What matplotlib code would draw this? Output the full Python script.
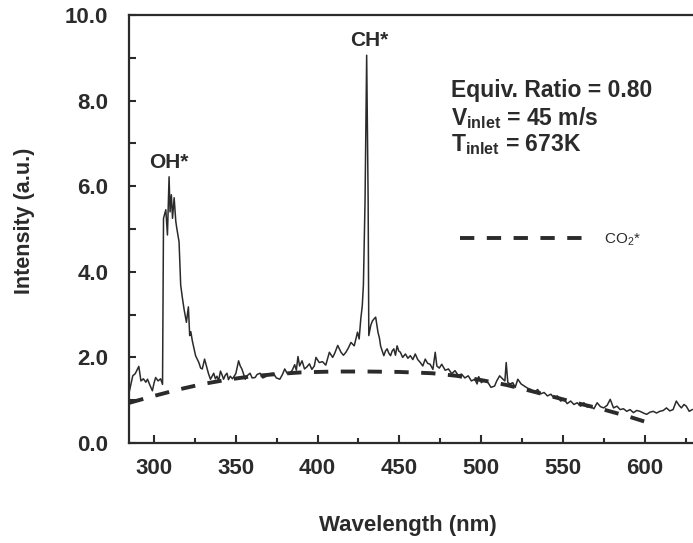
import matplotlib
matplotlib.use("Agg")
import matplotlib.pyplot as plt
import numpy as np
from matplotlib.ticker import MultipleLocator, FormatStrFormatter

plt.rcParams['font.family'] = ['Liberation Sans', 'DejaVu Sans']
plt.rcParams['mathtext.fontset'] = 'custom'
plt.rcParams['mathtext.rm'] = 'Liberation Sans'
plt.rcParams['mathtext.bf'] = 'Liberation Sans:bold'
plt.rcParams['lines.scale_dashes'] = False

ink = '#2b2b2b'

wavelength = [
    285.0, 286.0, 287.0, 288.5, 290.7, 292.0, 293.5, 295.0, 296.0, 297.5,
    299.0, 300.0, 301.0, 302.5, 304.0, 305.2, 305.8, 307.2, 308.2, 309.2,
    309.8, 310.6, 311.3, 312.3, 313.3, 313.9, 315.3, 316.3, 317.3, 318.3,
    319.8, 321.0, 321.8, 322.5, 323.4, 325.4, 327.4, 328.5, 329.5, 330.9,
    332.0, 333.3, 334.5, 336.5, 337.5, 338.5, 339.5, 340.6, 341.5, 342.5,
    343.5, 344.6, 345.5, 346.6, 348.0, 350.0, 351.7, 352.7, 353.7, 354.8,
    355.8, 357.2, 358.7, 360.0, 361.8, 363.0, 364.8, 366.5, 368.8, 370.5,
    372.9, 374.8, 376.9, 378.5, 379.9, 381.5, 383.0, 384.5, 386.0, 387.0,
    388.0, 389.0, 390.5, 392.0, 393.5, 395.0, 396.5, 398.0, 399.0, 401.0,
    403.0, 405.0, 407.2, 409.2, 410.5, 412.3, 414.3, 415.8, 417.3, 418.8,
    420.4, 422.4, 423.5, 424.4, 425.4, 426.4, 427.3, 428.0, 429.0, 430.0,
    430.9, 431.3, 432.5, 433.5, 434.5, 435.5, 436.9, 437.8, 438.5, 439.5,
    440.5, 441.5, 442.5, 443.5, 444.6, 445.6, 446.6, 447.6, 448.6, 449.6,
    450.6, 452.0, 453.7, 455.2, 456.7, 458.2, 459.7, 461.2, 462.8, 464.3,
    465.8, 467.3, 468.8, 470.5, 471.9, 472.9, 474.4, 475.9, 478.0, 480.0,
    482.0, 484.0, 486.0, 488.0, 490.0, 492.1, 494.0, 496.1, 497.5, 498.5,
    500.1, 502.0, 504.2, 506.0, 508.2, 509.5, 511.3, 513.3, 514.5, 515.3,
    516.3, 517.8, 519.3, 520.8, 522.4, 524.4, 526.4, 528.4, 530.4, 532.5,
    534.5, 536.5, 538.5, 540.5, 542.6, 544.6, 546.6, 548.6, 550.6, 552.6,
    554.7, 556.7, 558.7, 560.8, 562.8, 564.8, 566.8, 568.9, 570.9, 572.9,
    574.9, 577.0, 578.9, 580.9, 583.0, 585.0, 587.0, 589.0, 591.0, 593.1,
    595.1, 597.1, 599.2, 601.2, 603.2, 605.2, 607.2, 609.2, 611.3, 613.3,
    615.3, 617.3, 619.3, 621.0, 622.4, 624.0, 625.4, 627.2, 629.0,
]
intensity = [
    1.22, 1.40, 1.57, 1.62, 1.79, 1.45, 1.50, 1.42, 1.49, 1.35,
    1.22, 1.40, 1.53, 1.45, 1.50, 1.37, 5.25, 5.45, 4.86, 6.22,
    5.40, 5.80, 5.25, 5.73, 5.18, 5.02, 4.70, 3.69, 3.40, 3.14,
    2.82, 3.18, 2.51, 2.60, 2.39, 2.04, 1.88, 1.75, 1.73, 1.96,
    1.80, 1.62, 1.49, 1.63, 1.50, 1.56, 1.45, 1.68, 1.60, 1.49,
    1.58, 1.63, 1.48, 1.56, 1.50, 1.62, 1.92, 1.80, 1.73, 1.60,
    1.49, 1.58, 1.63, 1.52, 1.53, 1.60, 1.63, 1.52, 1.56, 1.62,
    1.63, 1.52, 1.49, 1.60, 1.73, 1.62, 1.63, 1.70, 1.83, 1.70,
    2.02, 1.80, 1.92, 1.73, 1.78, 1.85, 1.72, 1.80, 2.00, 1.88,
    1.90, 1.82, 2.12, 2.00, 2.10, 2.28, 2.12, 2.05, 2.12, 2.22,
    2.35, 2.27, 2.45, 2.59, 2.43, 2.90, 3.20, 3.69, 5.65, 9.06,
    5.65, 2.51, 2.75, 2.85, 2.90, 2.94, 2.59, 2.45, 2.27, 2.15,
    2.04, 2.15, 2.20, 2.10, 2.04, 2.15, 2.20, 2.05, 2.27, 2.15,
    2.12, 2.00, 2.08, 1.98, 2.04, 1.95, 2.08, 1.95, 1.88, 1.80,
    1.96, 1.86, 1.84, 1.72, 2.12, 1.80, 1.75, 1.84, 1.70, 1.73,
    1.62, 1.69, 1.58, 1.61, 1.52, 1.57, 1.45, 1.49, 1.38, 1.55,
    1.41, 1.48, 1.41, 1.30, 1.33, 1.45, 1.57, 1.49, 1.45, 1.88,
    1.41, 1.38, 1.41, 1.30, 1.49, 1.38, 1.33, 1.28, 1.25, 1.18,
    1.25, 1.15, 1.18, 1.10, 1.14, 1.05, 1.10, 0.98, 1.02, 0.92,
    0.98, 0.90, 0.94, 0.86, 0.94, 0.84, 0.86, 0.80, 0.94, 0.85,
    0.82, 0.88, 1.02, 0.82, 0.86, 0.78, 0.80, 0.74, 0.78, 0.71,
    0.76, 0.74, 0.70, 0.67, 0.72, 0.74, 0.70, 0.74, 0.76, 0.82,
    0.75, 0.78, 0.98, 0.88, 0.82, 0.90, 0.86, 0.74, 0.78,
]

# CO2* background continuum
co2_wavelength = [285, 300, 315, 330, 345, 360, 375, 390, 410, 430,
                  450, 470, 485, 500, 515, 530, 545, 560, 575, 590, 600]
co2_intensity = [0.94, 1.10, 1.25, 1.38, 1.48, 1.56, 1.61, 1.65, 1.67, 1.67,
                 1.66, 1.63, 1.57, 1.47, 1.36, 1.22, 1.07, 0.92, 0.78, 0.62, 0.50]

fig = plt.figure(figsize=(6.93, 5.43), dpi=100)
ax = fig.add_axes([129/693, 100/543, 564/693, 428/543])

ax.plot(wavelength, intensity, color=ink, lw=1.1)
co2_line, = ax.plot(co2_wavelength, co2_intensity, color=ink, lw=2.8,
                    dashes=(10.3, 9.0), dash_capstyle='butt')

ax.set_xlim(284.7, 629.5)
ax.set_ylim(0, 10)

ax.xaxis.set_major_locator(MultipleLocator(50))
ax.xaxis.set_minor_locator(MultipleLocator(25))
ax.yaxis.set_major_locator(MultipleLocator(2))
ax.yaxis.set_minor_locator(MultipleLocator(1))
ax.yaxis.set_major_formatter(FormatStrFormatter('%.1f'))

ax.spines['right'].set_visible(False)
for s in ['left', 'bottom', 'top']:
    ax.spines[s].set_linewidth(1.6)
    ax.spines[s].set_color(ink)

ax.tick_params(axis='both', which='both', direction='in', color=ink, width=1.5,
               top=False, right=False, labelcolor=ink)
ax.tick_params(axis='y', which='major', length=5, pad=15, labelsize=16)
ax.tick_params(axis='y', which='minor', length=5)
ax.tick_params(axis='x', which='major', length=5.5, pad=11, labelsize=16)
ax.tick_params(axis='x', which='minor', length=3.5)
for lab in ax.get_xticklabels() + ax.get_yticklabels():
    lab.set_fontweight('bold')

ax.set_ylabel('Intensity (a.u.)', fontsize=15.5, fontweight='bold', color=ink)
ax.set_xlabel('Wavelength (nm)', fontsize=16, fontweight='bold', color=ink)
ax.yaxis.set_label_coords(-0.167, 0.52)
ax.xaxis.set_label_coords(0.495, -0.168)

ax.text(309, 6.55, 'OH*', fontsize=15, fontweight='bold', color=ink, ha='center', va='center')
ax.text(431.6, 9.41, 'CH*', fontsize=15, fontweight='bold', color=ink, ha='center', va='center')
ax.text(481.6, 8.24, 'Equiv. Ratio = 0.80', fontsize=16.5, fontweight='bold', color=ink, va='center')
ax.text(481.6, 7.6, r'V$_{\mathbf{inlet}}$ = 45 m/s', fontsize=16.5, fontweight='bold', color=ink, va='center')
ax.text(481.6, 6.98, r'T$_{\mathbf{inlet}}$ = 673K', fontsize=16.5, fontweight='bold', color=ink, va='center')

leg = ax.legend([co2_line], [r'CO$_2$*'], loc='center left',
                bbox_to_anchor=(487.3, 4.74), bbox_transform=ax.transData,
                frameon=False, fontsize=11, handlelength=8.0,
                handletextpad=1.4, borderpad=0, borderaxespad=0)
for t in leg.get_texts():
    t.set_color(ink)

fig.savefig('out.png', dpi=100)
